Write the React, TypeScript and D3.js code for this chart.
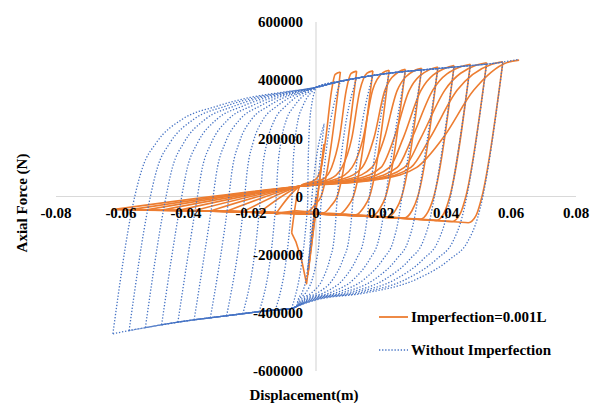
import React from "react";
import * as d3 from "d3";

type Pt = [number, number];

const WIDTH = 590;
const HEIGHT = 403;

const xTicks = [-0.08, -0.06, -0.04, -0.02, 0, 0.02, 0.04, 0.06, 0.08];
const yTicks = [-600000, -400000, -200000, 0, 200000, 400000, 600000];

// Loading protocol: displacement at every compression / tension reversal (m)
const compressionPeaks = [-0.0025, -0.0075, -0.0125, -0.0175, -0.0225, -0.0275, -0.0325, -0.0375, -0.0425, -0.0475, -0.0525, -0.0575, -0.0625];
const tensionPeaks = [0.0025, 0.0075, 0.0125, 0.0175, 0.0225, 0.0275, 0.0325, 0.0375, 0.0425, 0.0475, 0.0525, 0.0575, 0.0625];

// ---- Without imperfection ----
// axial force at each reversal (N)
const plainCompressionForce = [-250000, -385000, -390000, -396000, -403000, -410000, -417000, -424000, -432000, -441000, -451000, -461000, -472000];
const plainTensionForce = [250000, 396000, 407000, 416000, 424000, 430000, 435000, 440000, 445000, 450000, 455000, 462000, 472000];
// points where reversed branches rejoin the yield envelope [m, N]
const plainTensionJoin: Pt = [0, 375000];
const plainCompressionJoin: Pt = [-0.006, -378000];
// Bauschinger transition, as fraction of branch width / force rise
const plainTensionShapeU = [0, 0.053, 0.128, 0.27, 0.457, 0.64, 0.82, 1];
const plainTensionShapeF = [0, 0.32, 0.53, 0.73, 0.84, 0.915, 0.96, 1];
const plainCompressionShapeU = [0, 0.014, 0.068, 0.162, 0.343, 0.615, 0.89, 1];
const plainCompressionShapeF = [0, 0.097, 0.34, 0.515, 0.72, 0.86, 0.933, 1];

// ---- Imperfection = 0.001L ----
const imperfCompressionForce = [-270000, -125000, -62000, -56000, -53000, -51000, -50000, -49000, -48000, -47000, -46500, -46000, -45000];
const imperfTensionForce = [180000, 428000, 431000, 432000, 434000, 437000, 441000, 445000, 450000, 455000, 460000, 463000, 469000];
// first buckling and post-buckling descent (m, N)
const firstBucklingDisp = [-0.0029, -0.0045, -0.0062];
const firstBucklingForce = [-300000, -215000, -155000];
// force where the buckled brace turns after each tension excursion 1..11 (N)
const imperfCornerForce = [-52000, -56000, -60000, -63000, -67000, -70000, -74000, -78000, -82000, -86000, -90000];
// force of the compression band where it crosses zero displacement (N)
const imperfBandForceAtZero = -60000;
// point where straightening starts on every tension excursion [m, N]
const straighteningStart: Pt = [-0.005, 35000];
// displacement at which tension excursions 1..12 pass 60 kN, 100 kN, 200 kN, 365 kN and 8 kN below peak
const imperfRise60 = [0.0, 0.0022, 0.0042, 0.0062, 0.0082, 0.0102, 0.0122, 0.0142, 0.016, 0.0177, 0.019, 0.02];
const imperfRise100 = [0.0016, 0.0048, 0.008, 0.0111, 0.0142, 0.0172, 0.02, 0.0226, 0.025, 0.0272, 0.0292, 0.031];
const imperfRise200 = [0.003, 0.0072, 0.011, 0.0145, 0.0178, 0.021, 0.024, 0.0268, 0.0295, 0.0322, 0.035, 0.039];
const imperfRise365 = [0.0048, 0.0093, 0.0135, 0.0174, 0.0212, 0.025, 0.0287, 0.0323, 0.0359, 0.0396, 0.0434, 0.0485];
const imperfPrePeak = [0.0059, 0.0108, 0.0157, 0.0206, 0.0255, 0.0303, 0.0351, 0.0399, 0.0447, 0.0494, 0.0541, 0.0588];

const UNLOAD_STIFFNESS = 7.2e7; // N/m

const ORANGE = "#ED7D31";
const BLUE = "#4472C4";
const FONT = '"Liberation Serif", "Times New Roman", serif';

function plainBranches(): Pt[][] {
  const out: Pt[][] = [];
  let prev: Pt = [0, 0];
  for (let k = 0; k < compressionPeaks.length; k++) {
    const cPk: Pt = [compressionPeaks[k], plainCompressionForce[k]];
    if (k === 0) {
      out.push([prev, cPk]);
    } else {
      const fe = -40000;
      const de = prev[0] - (prev[1] - fe) / UNLOAD_STIFFNESS;
      const [jd, jf] = plainCompressionJoin;
      const pts: Pt[] = [prev, [de, fe]];
      for (let i = 1; i < plainCompressionShapeU.length; i++) {
        pts.push([de + plainCompressionShapeU[i] * (jd - de), fe + plainCompressionShapeF[i] * (jf - fe)]);
      }
      for (let i = 1; i < k; i++) {
        if (compressionPeaks[i] < jd) pts.push([compressionPeaks[i], plainCompressionForce[i]]);
      }
      pts.push(cPk);
      out.push(pts);
    }
    prev = cPk;

    const tPk: Pt = [tensionPeaks[k], plainTensionForce[k]];
    if (k === 0) {
      out.push([prev, tPk]);
    } else {
      const fe = -30000;
      const de = prev[0] + (fe - prev[1]) / UNLOAD_STIFFNESS;
      const [jd, jf] = plainTensionJoin;
      const pts: Pt[] = [prev, [de, fe]];
      for (let i = 1; i < plainTensionShapeU.length; i++) {
        pts.push([de + plainTensionShapeU[i] * (jd - de), fe + plainTensionShapeF[i] * (jf - fe)]);
      }
      for (let i = 1; i < k; i++) {
        if (tensionPeaks[i] > jd) pts.push([tensionPeaks[i], plainTensionForce[i]]);
      }
      pts.push(tPk);
      out.push(pts);
    }
    prev = tPk;
  }
  return out;
}

function imperfBranches(): { pts: Pt[]; smooth: boolean }[] {
  const out: { pts: Pt[]; smooth: boolean }[] = [];
  let prev: Pt = [0, 0];
  for (let k = 0; k < compressionPeaks.length; k++) {
    const cPk: Pt = [compressionPeaks[k], imperfCompressionForce[k]];
    if (k === 0) {
      out.push({ pts: [prev, cPk], smooth: false });
    } else if (k === 1) {
      const pts: Pt[] = [prev];
      firstBucklingDisp.forEach((d, i) => pts.push([d, firstBucklingForce[i]]));
      pts.push(cPk);
      out.push({ pts, smooth: false });
    } else {
      const fc = imperfCornerForce[k - 2];
      const d0 = prev[0] - prev[1] / UNLOAD_STIFFNESS;
      const pts: Pt[] = [prev, [d0, 0], [d0 - 0.0018, fc + 25000], [d0 - 0.0042, fc], [d0 - 0.0075, fc + 2500]];
      if (d0 - 0.0075 > 0.002) pts.push([0, imperfBandForceAtZero]);
      pts.push(cPk);
      out.push({ pts, smooth: true });
    }
    prev = cPk;

    const tPk: Pt = [tensionPeaks[k], imperfTensionForce[k]];
    if (k === 0) {
      out.push({ pts: [prev, tPk], smooth: false });
    } else {
      const j = k - 1;
      const pts: Pt[] = [prev, straighteningStart];
      if (imperfRise60[j] > straighteningStart[0] + 0.002) pts.push([imperfRise60[j], 60000]);
      pts.push(
        [imperfRise100[j], 100000],
        [imperfRise200[j], 200000],
        [imperfRise365[j], 365000],
        [imperfPrePeak[j], tPk[1] - 8000],
        tPk
      );
      out.push({ pts, smooth: true });
    }
    prev = tPk;
  }
  return out;
}

function ascending(pts: Pt[]): Pt[] {
  return pts[0][0] > pts[pts.length - 1][0] ? [...pts].reverse() : pts;
}

export default function App() {
  const x = d3.scaleLinear().domain([-0.08, 0.08]).range([56, 576]);
  const y = d3.scaleLinear().domain([-600000, 600000]).range([371, 22]);

  const smoothLine = d3
    .line<Pt>()
    .x((d) => x(d[0]))
    .y((d) => y(d[1]))
    .curve(d3.curveMonotoneX);
  const straightLine = d3
    .line<Pt>()
    .x((d) => x(d[0]))
    .y((d) => y(d[1]));

  const blue = plainBranches();
  const orange = imperfBranches();

  const x0 = x(0);
  const y0 = y(0);
  const tickFmt = (t: number) => (t === 0 ? "0" : d3.format(".2f")(t).replace("\u2212", "-"));

  return (
    <svg
      width={WIDTH}
      height={HEIGHT}
      style={{ position: "fixed", left: 0, top: 0, background: "#fff" }}
      fontFamily={FONT}
      fontWeight={700}
    >
      <rect width={WIDTH} height={HEIGHT} fill="#fff" />
      {/* axes through the origin */}
      <line x1={x(-0.08)} x2={x(0.08)} y1={y0} y2={y0} stroke="#D9D9D9" strokeWidth={1.2} />
      <line x1={x0} x2={x0} y1={y(600000)} y2={y(-600000)} stroke="#D9D9D9" strokeWidth={1.2} />

      {/* Imperfection = 0.001L */}
      <g fill="none" stroke={ORANGE} strokeWidth={1.6} strokeLinejoin="round">
        {orange.map((b, i) => (
          <path key={i} d={(b.smooth ? smoothLine(ascending(b.pts)) : straightLine(b.pts)) || ""} />
        ))}
      </g>

      {/* Without imperfection */}
      <g fill="none" stroke={BLUE} strokeWidth={1.3} strokeDasharray="1.3 1.8">
        {blue.map((b, i) => (
          <path key={i} d={smoothLine(ascending(b)) || ""} />
        ))}
      </g>

      {/* tick labels */}
      <g fontSize={15} fill="#000">
        {xTicks.map((t) => (
          <text key={t} x={x(t)} y={213} textAnchor="middle" dy="0.35em">
            {tickFmt(t)}
          </text>
        ))}
        {yTicks.map((t) => (
          <text key={t} x={x0 - 13} y={y(t)} textAnchor="end" dy="0.35em">
            {t}
          </text>
        ))}
      </g>

      {/* axis titles */}
      <text x={304} y={395} textAnchor="middle" dy="0.35em" fontSize={15}>
        Displacement(m)
      </text>
      <text transform="translate(22,203) rotate(-90)" textAnchor="middle" dy="0.35em" fontSize={15}>
        Axial Force (N)
      </text>

      {/* legend */}
      <g fontSize={15}>
        <line x1={379} x2={408} y1={317} y2={317} stroke={ORANGE} strokeWidth={1.8} />
        <text x={411} y={317} dy="0.35em">Imperfection=0.001L</text>
        <line x1={379} x2={408} y1={350} y2={350} stroke={BLUE} strokeWidth={1.3} strokeDasharray="1.3 1.8" />
        <text x={411} y={350} dy="0.35em">Without Imperfection</text>
      </g>
    </svg>
  );
}
